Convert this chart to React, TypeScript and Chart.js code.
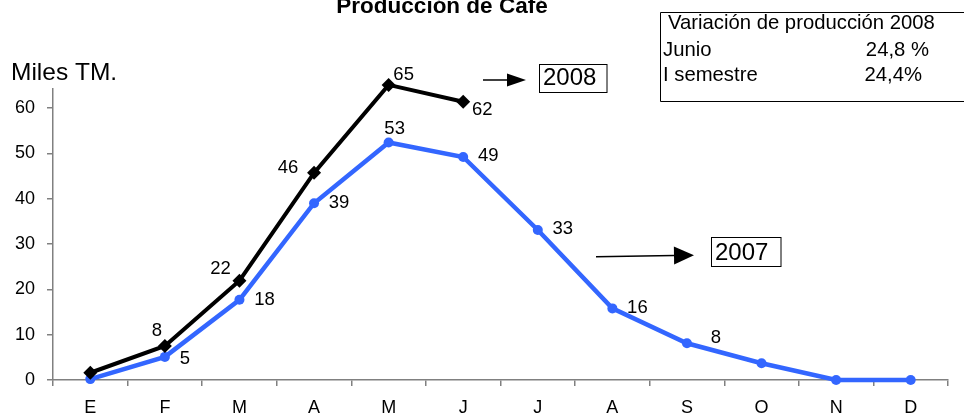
import React, { useEffect, useRef } from 'react';
import { Chart, registerables } from 'chart.js';

Chart.register(...registerables);

// ---- data ----
const months = ['E', 'F', 'M', 'A', 'M', 'J', 'J', 'A', 'S', 'O', 'N', 'D'];
const prod2008 = [1.6, 7.5, 21.9, 45.7, 65.1, 61.4];
const prod2007 = [0.2, 5.1, 17.7, 39.0, 52.4, 49.2, 33.1, 15.8, 8.1, 3.7, 0, 0];
const labels2008 = ['', '8', '22', '46', '65', '62'];
const labels2007 = ['', '5', '18', '39', '53', '49', '33', '16', '8', '', '', ''];
const yTicks = [0, 10, 20, 30, 40, 50, 60];
const seriesNames = ['2008', '2007'];
const chartTitle = 'Producción de Café';
const yTitle = 'Miles TM.';
const boxTitle = 'Variación de producción 2008';
const boxRows = ['Junio', 'I semestre'];
const boxValues = ['24,8 %', '24,4%'];

// ---- styles ----
const FONT = '"Liberation Sans", Arial, sans-serif';
const BLUE = '#3366FF';
const BLACK = '#000000';
const off2008 = [[0, 0], [-8, -15], [-19, -12], [-26, -5], [15, -10], [19, 8]];
const off2007 = [[0, 0], [20, 2], [25, 0], [25, 0], [6, -14], [25, -1], [25, -1], [25, 0], [29, -5], [0, 0], [0, 0], [0, 0]];

function arrow(ctx: CanvasRenderingContext2D, x1: number, y1: number, x2: number, y2: number, headLen: number, headHalf: number) {
  const ang = Math.atan2(y2 - y1, x2 - x1);
  const bx = x2 - Math.cos(ang) * headLen;
  const by = y2 - Math.sin(ang) * headLen;
  ctx.beginPath();
  ctx.moveTo(x1, y1);
  ctx.lineTo(bx, by);
  ctx.lineWidth = 1.5;
  ctx.strokeStyle = '#000';
  ctx.stroke();
  ctx.beginPath();
  ctx.moveTo(x2, y2);
  ctx.lineTo(bx - Math.sin(ang) * headHalf, by + Math.cos(ang) * headHalf);
  ctx.lineTo(bx + Math.sin(ang) * headHalf, by - Math.cos(ang) * headHalf);
  ctx.closePath();
  ctx.fillStyle = '#000';
  ctx.fill();
}

const decorPlugin = {
  id: 'decor',
  afterDatasetsDraw(chart: any) {
    const ctx: CanvasRenderingContext2D = chart.ctx;
    ctx.save();
    ctx.fillStyle = '#000';
    ctx.textAlign = 'center';
    ctx.textBaseline = 'middle';
    ctx.font = `18.5px ${FONT}`;
    const lbls = [labels2008, labels2007];
    const offs = [off2008, off2007];
    chart.data.datasets.forEach((_: any, di: number) => {
      const meta = chart.getDatasetMeta(di);
      meta.data.forEach((pt: any, i: number) => {
        const t = lbls[di][i];
        if (!t) return;
        const o = offs[di][i];
        ctx.fillText(t, pt.x + o[0], pt.y + o[1]);
      });
    });
    ctx.restore();
  },
  afterDraw(chart: any) {
    const ctx: CanvasRenderingContext2D = chart.ctx;
    ctx.save();
    ctx.fillStyle = '#000';
    ctx.textBaseline = 'alphabetic';
    // title
    ctx.font = `bold 22.5px ${FONT}`;
    ctx.textAlign = 'center';
    ctx.fillText(chartTitle, 442, 13);
    // y title
    ctx.font = `24.5px ${FONT}`;
    ctx.textAlign = 'left';
    ctx.fillText(yTitle, 11, 80);
    // info box
    ctx.strokeStyle = '#000';
    ctx.lineWidth = 1;
    ctx.beginPath();
    ctx.moveTo(970, 12.5);
    ctx.lineTo(660.5, 12.5);
    ctx.lineTo(660.5, 101.5);
    ctx.lineTo(970, 101.5);
    ctx.stroke();
    ctx.font = `20.3px ${FONT}`;
    ctx.fillText(boxTitle, 668, 29);
    ctx.fillText(boxRows[0], 663, 56);
    ctx.fillText(boxRows[1], 663, 81);
    ctx.textAlign = 'right';
    ctx.fillText(boxValues[0], 929, 56);
    ctx.fillText(boxValues[1], 922, 81);
    // series tags
    ctx.textAlign = 'left';
    ctx.font = `24px ${FONT}`;
    ctx.strokeRect(539.5, 64.5, 67.5, 28);
    ctx.fillText(seriesNames[0], 543, 85);
    ctx.strokeRect(711.5, 237.5, 69.5, 29);
    ctx.fillText(seriesNames[1], 715, 259.5);
    // arrows
    arrow(ctx, 483, 80, 526, 80, 19, 6.5);
    arrow(ctx, 596, 256.7, 694, 255.2, 20, 9);
    ctx.restore();
  },
};

export default function App() {
  const ref = useRef<HTMLCanvasElement>(null);
  useEffect(() => {
    if (!ref.current) return;
    const chart = new Chart(ref.current, {
      type: 'line',
      data: {
        labels: months,
        datasets: [
          {
            label: seriesNames[0],
            data: prod2008,
            borderColor: BLACK,
            backgroundColor: BLACK,
            borderWidth: 4,
            pointStyle: 'rectRot',
            pointRadius: 7,
            pointBorderWidth: 0,
            tension: 0,
            clip: false as any,
          },
          {
            label: seriesNames[1],
            data: prod2007,
            borderColor: BLUE,
            backgroundColor: BLUE,
            borderWidth: 4.5,
            pointStyle: 'circle',
            pointRadius: 5,
            pointBorderWidth: 0,
            tension: 0,
            clip: false as any,
          },
        ],
      },
      options: {
        animation: false,
        responsive: true,
        maintainAspectRatio: false,
        layout: { padding: { left: 0, right: 16, top: 89, bottom: 0 } },
        plugins: { legend: { display: false }, tooltip: { enabled: false }, title: { display: false } },
        font: { family: FONT } as any,
        scales: {
          x: {
            type: 'category',
            offset: true,
            grid: { display: true, drawOnChartArea: false, drawTicks: true, tickLength: 6, offset: true, color: '#808080', lineWidth: 1.5 },
            border: { color: '#808080', width: 1.5 },
            ticks: { color: '#000', font: { size: 18, family: FONT }, padding: 11, maxRotation: 0, autoSkip: false },
            afterFit: (s: any) => { s.height = 40; },
          },
          y: {
            min: 0,
            max: 64.2,
            afterBuildTicks: (s: any) => { s.ticks = yTicks.map((v) => ({ value: v })); },
            grid: { display: true, drawOnChartArea: false, drawTicks: true, tickLength: 6, color: '#808080', lineWidth: 1.5 },
            border: { color: '#808080', width: 1.5 },
            ticks: { color: '#000', font: { size: 18, family: FONT }, padding: 12 },
            afterFit: (s: any) => { s.width = 53; },
          },
        },
      },
      plugins: [decorPlugin],
    });
    return () => chart.destroy();
  }, []);
  return (
    <div style={{ position: 'absolute', left: 0, top: 0, width: 964, height: 420, background: '#fff' }}>
      <canvas ref={ref} />
    </div>
  );
}
